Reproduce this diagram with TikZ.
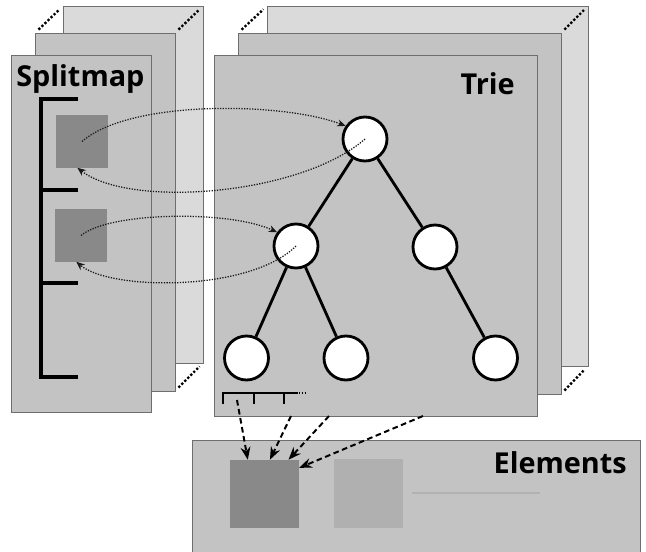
\documentclass[tikz,border=0pt]{standalone}
\usepackage{fontspec}
\setmainfont{Open Sans}
\definecolor{sheetGray}{RGB}{195,195,195}
\definecolor{backGray}{RGB}{218,218,218}
\definecolor{edgeGray}{RGB}{110,110,110}
\definecolor{squareGray}{RGB}{137,137,137}
\definecolor{lightSquare}{RGB}{176,176,176}
\definecolor{faintLine}{RGB}{178,178,178}
\usetikzlibrary{arrows.meta}

\begin{document}
\begin{tikzpicture}[x=0.025cm, y=-0.025cm,
    sheet/.style={draw=edgeGray, fill=sheetGray, line width=0.7pt},
    backsheet/.style={draw=edgeGray, fill=backGray, line width=0.7pt},
    gap/.style={dash pattern=on 1.6pt off 1.4pt, line width=1.7pt, shorten <=3.5pt, shorten >=3.5pt},
    trienode/.style={circle, draw, fill=white, line width=2pt, minimum size=1.1cm, inner sep=0pt},
    mapbox/.style={rectangle, fill=squareGray, minimum size=1.3cm, inner sep=0pt},
    elembox/.style={rectangle, minimum width=1.72cm, minimum height=1.7cm, inner sep=0pt},
    sheettitle/.style={font=\fontsize{20.5}{24}\selectfont\bfseries, inner sep=0pt},
    pointer/.style={-{Stealth[length=6pt, width=5pt]}, densely dotted, line width=0.9pt, black!90},
    fetch/.style={-{Stealth[length=9pt, width=7pt]}, dash pattern=on 4pt off 2.5pt, line width=1.4pt}]
    \clip (0,0) rectangle (646,552);

    \filldraw[backsheet] (63,6) rectangle (203,363);
    \draw[gap] (35,33) -- (63,6);
    \draw[gap] (175,33) -- (203,6);
    \draw[gap] (175,391) -- (203,363);
    \filldraw[sheet] (35,33) rectangle (175,391);
    \filldraw[sheet] (11,55) rectangle (151,412);

    \filldraw[backsheet] (267,6) rectangle (588,366);
    \draw[gap] (238,33) -- (267,6);
    \draw[gap] (561,33) -- (588,6);
    \draw[gap] (561,394) -- (588,366);
    \filldraw[sheet] (238,33) rectangle (561,394);
    \filldraw[sheet] (214,55) rectangle (537,416);

    \filldraw[sheet] (192,440) rectangle (640,570);

    \node[sheettitle, anchor=base west] (splitmapTitle) at (16,87) {Splitmap};
    \node[sheettitle, anchor=base east] (trieTitle) at (515,94) {Trie};
    \node[sheettitle, anchor=base east] (elementsTitle) at (627,473) {Elements};

    \draw[line width=3.5pt] (78,99) -- (41,99) -- (41,377) -- (78,377);
    \draw[line width=3.5pt] (41,190) -- (78,190);
    \draw[line width=3.5pt] (41,283) -- (78,283);

    \node[mapbox] (slot1) at (82,141.5) {};
    \node[mapbox] (slot2) at (81,235.5) {};

    \node[elembox, fill=squareGray] (elem1) at (264.5,494) {};
    \node[elembox, fill=lightSquare] (elem2) at (368.5,493.5) {};
    \draw[faintLine, line width=0.8pt] (412,493) -- (540,493);

    \node[trienode] (root) at (365,139) {};
    \node[trienode] (left) at (296,246) {};
    \node[trienode] (right) at (435,247) {};
    \node[trienode] (leafA) at (246.5,358) {};
    \node[trienode] (leafB) at (346,358) {};
    \node[trienode] (leafC) at (495.5,358) {};

    \draw[line width=2pt] (root) -- (left);
    \draw[line width=2pt] (root) -- (right);
    \draw[line width=2pt] (left) -- (leafA);
    \draw[line width=2pt] (left) -- (leafB);
    \draw[line width=2pt] (right) -- (leafC);

    \draw[line width=1.1pt] (223,404) -- (223,393) -- (298,393);
    \draw[line width=1.1pt] (254,393) -- (254,404);
    \draw[line width=1.1pt] (284,393) -- (284,404);
    \draw[line width=1.1pt, dash pattern=on 1pt off 1pt] (299,393) -- (307,393);

    \draw[pointer] (slot1.center) .. controls +(48,-42) and +(-63,-24) .. (root.146);
    \draw[pointer] (root.center) .. controls +(-64,56) and +(53,41) .. (slot1.260);
    \draw[pointer] (slot2.center) .. controls +(29,-24) and +(-47,-22) .. (left.144);
    \draw[pointer] (left.center) .. controls +(-46,46) and +(34,29) .. (slot2.260);

    \coordinate (cell1) at (237,400);
    \coordinate (cell2) at (291,416);
    \coordinate (cell3) at (329,416);
    \coordinate (cell4) at (423,416);
    \draw[fetch] (cell1) -- (elem1.116);
    \draw[fetch] (cell2) -- (elem1.81);
    \draw[fetch] (cell3) -- (elem1.55);
    \draw[fetch] (cell4) -- (elem1.37);
\end{tikzpicture}
\end{document}
